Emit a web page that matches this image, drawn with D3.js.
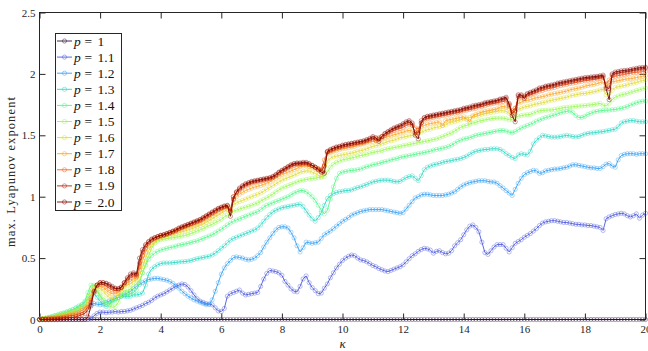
<!DOCTYPE html>
<html><head><meta charset="utf-8">
<script src="https://cdn.jsdelivr.net/npm/d3@7"></script>
<style>body{margin:0;background:#fff}svg{display:block}</style>
</head><body>
<svg id="c" width="648" height="351"></svg>
<script>
const pLabels = ["1","1.1","1.2","1.3","1.4","1.5","1.6","1.7","1.8","1.9","2.0"];
const kappaStep = 0.1;
const xTicks = [0,2,4,6,8,10,12,14,16,18,20];
const yTicks = [0,0.5,1,1.5,2,2.5];
const yTickLabels = ["0","0.5","1","1.5","2","2.5"];

const s10 = [
0,0,0,0,0,0,0,0,0,0, 0,0,0,0,0,0,0,0,0,0, 0,0,0,0,0,0,0,0,0,0, 0,0,0,0,0,0,0,0,0,0,
0,0,0,0,0,0,0,0,0,0, 0,0,0,0,0,0,0,0,0,0, 0,0,0,0,0,0,0,0,0,0, 0,0,0,0,0,0,0,0,0,0,
0,0,0,0,0,0,0,0,0,0, 0,0,0,0,0,0,0,0,0,0, 0,0,0,0,0,0,0,0,0,0, 0,0,0,0,0,0,0,0,0,0,
0,0,0,0,0,0,0,0,0,0, 0,0,0,0,0,0,0,0,0,0, 0,0,0,0,0,0,0,0,0,0, 0,0,0,0,0,0,0,0,0,0,
0,0,0,0,0,0,0,0,0,0, 0,0,0,0,0,0,0,0,0,0, 0,0,0,0,0,0,0,0,0,0, 0,0,0,0,0,0,0,0,0,0,
0];
const s11 = [
0,0,0,0,0,0,0,0,0,0,
0,0,0,0,0,0,0,0.01,0.03,0.05,
0.06,0.06,0.055,0.06,0.06,0.065,0.06,0.065,0.065,0.07,
0.075,0.085,0.095,0.105,0.115,0.13,0.14,0.155,0.175,0.19,
0.2,0.21,0.225,0.24,0.255,0.27,0.28,0.29,0.285,0.265,
0.235,0.2,0.17,0.15,0.14,0.13,0.125,0.12,0.095,0.07,
0.065,0.09,0.19,0.21,0.22,0.23,0.24,0.215,0.2,0.205,
0.21,0.215,0.22,0.27,0.33,0.375,0.4,0.395,0.39,0.38,
0.36,0.31,0.28,0.25,0.23,0.225,0.27,0.33,0.355,0.3,
0.26,0.235,0.21,0.215,0.255,0.29,0.34,0.38,0.42,0.45,
0.48,0.5,0.515,0.525,0.52,0.5,0.485,0.48,0.47,0.455,
0.44,0.43,0.415,0.405,0.395,0.39,0.4,0.41,0.42,0.43,
0.445,0.47,0.495,0.52,0.535,0.555,0.57,0.58,0.575,0.565,
0.54,0.555,0.56,0.545,0.535,0.54,0.56,0.6,0.625,0.65,
0.69,0.73,0.76,0.77,0.75,0.715,0.63,0.545,0.53,0.56,
0.59,0.61,0.61,0.61,0.58,0.55,0.585,0.62,0.635,0.65,
0.67,0.685,0.7,0.72,0.74,0.765,0.785,0.795,0.8,0.805,
0.805,0.8,0.795,0.79,0.79,0.785,0.78,0.775,0.775,0.77,
0.77,0.765,0.765,0.76,0.755,0.75,0.725,0.82,0.835,0.845,
0.855,0.86,0.865,0.86,0.845,0.835,0.845,0.86,0.825,0.85,
0.865];
const s12 = [
0,0.003,0.006,0.01,0.015,0.02,0.025,0.03,0.035,0.04,
0.05,0.055,0.065,0.075,0.09,0.1,0.11,0.12,0.13,0.125,
0.12,0.13,0.14,0.15,0.16,0.17,0.18,0.19,0.2,0.215,
0.23,0.25,0.27,0.285,0.3,0.315,0.325,0.33,0.335,0.335,
0.33,0.325,0.32,0.31,0.295,0.275,0.255,0.23,0.21,0.19,
0.175,0.16,0.15,0.14,0.13,0.12,0.125,0.16,0.23,0.3,
0.37,0.42,0.455,0.48,0.505,0.51,0.505,0.5,0.49,0.485,
0.49,0.5,0.52,0.545,0.59,0.63,0.665,0.7,0.73,0.75,
0.755,0.755,0.745,0.71,0.665,0.6,0.55,0.585,0.63,0.625,
0.62,0.625,0.63,0.66,0.69,0.705,0.72,0.74,0.76,0.78,
0.8,0.815,0.83,0.85,0.86,0.87,0.88,0.885,0.89,0.895,
0.895,0.895,0.895,0.895,0.89,0.885,0.88,0.875,0.87,0.865,
0.87,0.9,0.93,0.96,0.99,1.0,1.015,1.02,1.02,1.015,
1.01,1.01,1.01,1.01,1.015,1.02,1.03,1.04,1.06,1.08,
1.095,1.105,1.115,1.12,1.125,1.13,1.13,1.13,1.125,1.12,
1.12,1.11,1.09,1.07,1.05,1.03,1.01,1.06,1.11,1.15,
1.18,1.195,1.205,1.215,1.21,1.19,1.195,1.21,1.215,1.22,
1.225,1.225,1.23,1.235,1.24,1.25,1.26,1.26,1.255,1.25,
1.245,1.24,1.235,1.235,1.23,1.23,1.245,1.265,1.27,1.25,
1.24,1.3,1.335,1.345,1.35,1.35,1.35,1.345,1.35,1.35,
1.35];
const s13 = [
0,0.005,0.01,0.015,0.02,0.03,0.035,0.045,0.05,0.06,
0.07,0.08,0.095,0.11,0.12,0.14,0.17,0.2,0.21,0.18,
0.15,0.12,0.105,0.12,0.15,0.17,0.18,0.19,0.19,0.185,
0.19,0.2,0.2,0.205,0.215,0.28,0.37,0.41,0.43,0.445,
0.455,0.46,0.46,0.46,0.463,0.465,0.468,0.47,0.472,0.475,
0.48,0.488,0.495,0.5,0.505,0.51,0.515,0.525,0.54,0.56,
0.58,0.6,0.625,0.645,0.66,0.67,0.68,0.69,0.7,0.71,
0.72,0.73,0.745,0.77,0.8,0.83,0.855,0.875,0.89,0.9,
0.91,0.915,0.92,0.925,0.93,0.935,0.94,0.92,0.885,0.85,
0.82,0.8,0.83,0.87,0.93,0.985,1.01,1.025,1.035,1.04,
1.045,1.05,1.05,1.055,1.065,1.075,1.08,1.09,1.1,1.11,
1.12,1.125,1.13,1.135,1.135,1.135,1.13,1.125,1.12,1.125,
1.14,1.155,1.165,1.17,1.15,1.13,1.17,1.22,1.24,1.25,
1.26,1.265,1.27,1.28,1.285,1.29,1.295,1.3,1.305,1.31,
1.32,1.33,1.345,1.36,1.37,1.375,1.38,1.385,1.385,1.39,
1.39,1.39,1.385,1.37,1.35,1.335,1.32,1.31,1.34,1.35,
1.345,1.34,1.37,1.43,1.46,1.48,1.5,1.495,1.49,1.485,
1.485,1.486,1.49,1.495,1.5,1.495,1.49,1.486,1.49,1.5,
1.51,1.515,1.52,1.52,1.525,1.527,1.53,1.535,1.54,1.545,
1.55,1.57,1.6,1.61,1.615,1.62,1.62,1.615,1.61,1.61,
1.61];
const s14 = [
0,0.006,0.012,0.018,0.024,0.03,0.038,0.046,0.054,0.062,
0.07,0.08,0.09,0.1,0.12,0.15,0.22,0.28,0.28,0.23,
0.19,0.16,0.14,0.13,0.14,0.16,0.18,0.2,0.21,0.2,
0.21,0.22,0.24,0.3,0.38,0.44,0.49,0.52,0.54,0.555,
0.565,0.572,0.58,0.585,0.59,0.597,0.605,0.61,0.615,0.62,
0.627,0.634,0.64,0.65,0.66,0.67,0.68,0.69,0.705,0.72,
0.735,0.75,0.77,0.785,0.8,0.81,0.82,0.83,0.84,0.85,
0.86,0.868,0.878,0.895,0.915,0.93,0.94,0.95,0.96,0.97,
0.98,0.99,1.0,1.015,1.03,1.04,1.05,1.05,1.04,1.02,
1.0,0.97,0.93,0.89,0.86,0.89,0.98,1.08,1.15,1.19,
1.2,1.205,1.21,1.215,1.215,1.22,1.225,1.235,1.245,1.25,
1.26,1.265,1.27,1.28,1.285,1.29,1.3,1.305,1.31,1.32,
1.325,1.33,1.335,1.34,1.345,1.35,1.355,1.36,1.365,1.37,
1.38,1.385,1.39,1.395,1.4,1.41,1.42,1.435,1.45,1.46,
1.47,1.475,1.48,1.49,1.5,1.505,1.51,1.515,1.52,1.525,
1.53,1.535,1.54,1.54,1.535,1.525,1.52,1.53,1.545,1.56,
1.57,1.58,1.59,1.6,1.615,1.625,1.635,1.645,1.65,1.66,
1.665,1.675,1.685,1.69,1.695,1.7,1.685,1.66,1.645,1.645,
1.655,1.67,1.68,1.69,1.695,1.7,1.702,1.705,1.705,1.708,
1.71,1.715,1.72,1.725,1.735,1.745,1.755,1.765,1.772,1.778,
1.78];
const s15 = [
0,0.005,0.01,0.015,0.02,0.025,0.032,0.04,0.047,0.054,
0.06,0.068,0.076,0.09,0.11,0.13,0.19,0.25,0.27,0.24,
0.2,0.16,0.13,0.11,0.1,0.105,0.14,0.2,0.24,0.23,
0.25,0.27,0.29,0.32,0.38,0.45,0.52,0.58,0.62,0.64,
0.65,0.655,0.66,0.663,0.665,0.67,0.675,0.68,0.685,0.692,
0.7,0.71,0.72,0.73,0.74,0.755,0.765,0.775,0.79,0.8,
0.815,0.835,0.85,0.865,0.88,0.89,0.9,0.907,0.915,0.922,
0.93,0.94,0.95,0.965,0.978,0.99,1.005,1.02,1.04,1.055,
1.07,1.08,1.09,1.1,1.11,1.12,1.13,1.135,1.14,1.145,
1.15,1.15,1.155,1.16,1.165,1.2,1.24,1.265,1.28,1.29,
1.3,1.305,1.31,1.315,1.32,1.33,1.335,1.34,1.345,1.355,
1.36,1.365,1.37,1.375,1.385,1.39,1.395,1.4,1.405,1.41,
1.415,1.42,1.425,1.43,1.435,1.44,1.445,1.45,1.455,1.46,
1.465,1.47,1.48,1.49,1.5,1.51,1.52,1.535,1.55,1.565,
1.575,1.58,1.59,1.6,1.605,1.615,1.62,1.625,1.63,1.635,
1.638,1.64,1.64,1.64,1.635,1.625,1.63,1.645,1.655,1.66,
1.665,1.668,1.67,1.68,1.69,1.7,1.702,1.704,1.706,1.706,
1.71,1.715,1.72,1.725,1.728,1.73,1.732,1.735,1.738,1.74,
1.742,1.745,1.748,1.752,1.755,1.76,1.745,1.74,1.76,1.79,
1.81,1.82,1.83,1.835,1.84,1.85,1.855,1.865,1.87,1.878,
1.885];
const s16 = [
0,0.004,0.008,0.012,0.016,0.02,0.026,0.032,0.038,0.044,
0.05,0.056,0.064,0.08,0.095,0.11,0.15,0.21,0.26,0.27,
0.25,0.23,0.2,0.18,0.17,0.18,0.2,0.24,0.27,0.28,
0.29,0.31,0.32,0.36,0.43,0.5,0.56,0.6,0.63,0.65,
0.66,0.667,0.675,0.682,0.69,0.697,0.705,0.713,0.72,0.728,
0.737,0.745,0.755,0.765,0.775,0.79,0.805,0.82,0.835,0.85,
0.865,0.88,0.895,0.91,0.935,0.95,0.96,0.97,0.98,0.99,
1.0,1.01,1.02,1.03,1.045,1.06,1.075,1.09,1.105,1.12,
1.135,1.145,1.155,1.165,1.175,1.185,1.2,1.205,1.21,1.21,
1.2,1.19,1.175,1.16,1.2,1.29,1.315,1.325,1.33,1.335,
1.34,1.345,1.35,1.355,1.36,1.37,1.375,1.38,1.39,1.4,
1.41,1.415,1.42,1.43,1.44,1.45,1.455,1.46,1.47,1.48,
1.485,1.49,1.495,1.5,1.505,1.515,1.525,1.535,1.545,1.55,
1.56,1.565,1.57,1.58,1.585,1.6,1.605,1.61,1.62,1.625,
1.635,1.64,1.645,1.65,1.655,1.66,1.67,1.675,1.68,1.685,
1.69,1.695,1.7,1.7,1.695,1.68,1.64,1.67,1.71,1.72,
1.73,1.735,1.74,1.75,1.755,1.76,1.765,1.77,1.78,1.785,
1.79,1.795,1.8,1.805,1.81,1.82,1.825,1.83,1.835,1.84,
1.84,1.845,1.85,1.855,1.86,1.87,1.875,1.83,1.845,1.865,
1.89,1.895,1.9,1.905,1.91,1.92,1.925,1.93,1.94,1.945,
1.95];
const s17 = [
0,0.003,0.006,0.009,0.012,0.015,0.02,0.025,0.03,0.035,
0.04,0.045,0.05,0.06,0.075,0.09,0.12,0.18,0.24,0.27,
0.27,0.26,0.24,0.22,0.21,0.21,0.22,0.25,0.28,0.3,
0.31,0.33,0.34,0.4,0.48,0.55,0.6,0.63,0.65,0.665,
0.675,0.683,0.692,0.7,0.71,0.718,0.727,0.736,0.745,0.754,
0.762,0.77,0.778,0.79,0.8,0.815,0.83,0.845,0.86,0.875,
0.89,0.9,0.91,0.88,0.973,1.0,1.02,1.035,1.05,1.06,
1.07,1.078,1.085,1.092,1.1,1.11,1.12,1.135,1.15,1.165,
1.18,1.19,1.2,1.21,1.22,1.23,1.245,1.25,1.25,1.245,
1.24,1.23,1.215,1.2,1.25,1.35,1.36,1.37,1.375,1.383,
1.39,1.395,1.4,1.405,1.41,1.42,1.425,1.43,1.44,1.445,
1.45,1.455,1.46,1.47,1.48,1.49,1.495,1.505,1.51,1.52,
1.525,1.535,1.54,1.535,1.52,1.54,1.57,1.58,1.59,1.595,
1.6,1.605,1.61,1.58,1.62,1.625,1.63,1.635,1.64,1.645,
1.65,1.63,1.61,1.66,1.67,1.68,1.69,1.695,1.7,1.705,
1.71,1.715,1.73,1.735,1.73,1.72,1.68,1.72,1.76,1.77,
1.78,1.785,1.79,1.8,1.805,1.81,1.815,1.82,1.83,1.835,
1.84,1.845,1.85,1.855,1.86,1.87,1.875,1.88,1.885,1.89,
1.9,1.905,1.91,1.915,1.92,1.93,1.935,1.91,1.92,1.935,
1.94,1.945,1.95,1.955,1.96,1.96,1.965,1.97,1.975,1.98,
1.985];
const s18 = [
0,0.002,0.004,0.006,0.008,0.01,0.013,0.016,0.02,0.025,
0.03,0.034,0.038,0.045,0.055,0.07,0.1,0.16,0.23,0.28,
0.29,0.285,0.27,0.255,0.24,0.235,0.24,0.26,0.29,0.32,
0.34,0.355,0.35,0.43,0.52,0.58,0.62,0.645,0.66,0.67,
0.68,0.686,0.694,0.702,0.712,0.722,0.735,0.746,0.756,0.766,
0.776,0.786,0.795,0.805,0.82,0.835,0.85,0.865,0.88,0.895,
0.905,0.915,0.92,0.89,1.0,1.03,1.055,1.075,1.09,1.1,
1.11,1.117,1.122,1.127,1.132,1.138,1.145,1.155,1.17,1.19,
1.205,1.22,1.235,1.245,1.255,1.26,1.26,1.265,1.265,1.26,
1.25,1.24,1.23,1.22,1.3,1.36,1.37,1.38,1.39,1.398,
1.405,1.41,1.415,1.42,1.425,1.43,1.435,1.44,1.45,1.46,
1.47,1.475,1.48,1.48,1.5,1.515,1.53,1.54,1.55,1.555,
1.565,1.58,1.59,1.59,1.56,1.55,1.6,1.625,1.635,1.64,
1.645,1.65,1.655,1.66,1.665,1.67,1.675,1.68,1.685,1.69,
1.7,1.705,1.71,1.715,1.72,1.73,1.735,1.74,1.75,1.755,
1.76,1.765,1.77,1.775,1.78,1.74,1.7,1.72,1.8,1.81,
1.81,1.82,1.83,1.84,1.85,1.86,1.865,1.875,1.88,1.885,
1.89,1.9,1.905,1.91,1.915,1.92,1.925,1.93,1.935,1.94,
1.945,1.948,1.952,1.955,1.96,1.965,1.97,1.92,1.95,1.97,
1.98,1.985,1.99,1.995,2.0,2.005,2.01,2.012,2.015,2.018,
2.02];
const s19 = [
0,0.001,0.002,0.003,0.004,0.005,0.007,0.009,0.011,0.013,
0.015,0.018,0.022,0.03,0.04,0.05,0.08,0.14,0.22,0.28,
0.3,0.3,0.29,0.275,0.26,0.25,0.25,0.265,0.3,0.33,
0.355,0.37,0.36,0.46,0.55,0.6,0.63,0.65,0.665,0.675,
0.685,0.69,0.698,0.707,0.717,0.727,0.74,0.751,0.761,0.771,
0.781,0.791,0.8,0.81,0.825,0.84,0.855,0.87,0.885,0.9,
0.91,0.92,0.925,0.88,1.0,1.035,1.062,1.082,1.098,1.108,
1.118,1.124,1.13,1.135,1.14,1.145,1.15,1.16,1.175,1.195,
1.21,1.225,1.24,1.255,1.265,1.27,1.27,1.272,1.272,1.265,
1.255,1.24,1.225,1.21,1.25,1.365,1.378,1.39,1.4,1.405,
1.413,1.42,1.425,1.43,1.435,1.44,1.445,1.45,1.458,1.468,
1.48,1.46,1.47,1.49,1.51,1.525,1.54,1.553,1.563,1.573,
1.585,1.6,1.61,1.58,1.52,1.52,1.62,1.64,1.648,1.653,
1.658,1.663,1.668,1.673,1.678,1.683,1.688,1.693,1.698,1.703,
1.712,1.717,1.722,1.73,1.737,1.742,1.748,1.758,1.762,1.768,
1.772,1.778,1.788,1.792,1.8,1.76,1.68,1.7,1.82,1.822,
1.82,1.832,1.842,1.852,1.862,1.876,1.882,1.892,1.897,1.902,
1.907,1.916,1.921,1.926,1.931,1.936,1.941,1.946,1.951,1.956,
1.96,1.963,1.966,1.969,1.972,1.976,1.98,1.89,1.88,1.99,
2.003,2.008,2.013,2.017,2.02,2.025,2.03,2.035,2.04,2.043,
2.045];
const s20 = [
0,0,0,0,0,0,0,0,0,0,
0,0,0,0,0,0,0.02,0.11,0.23,0.28,
0.3,0.3,0.295,0.285,0.27,0.255,0.25,0.26,0.3,0.34,
0.37,0.38,0.37,0.5,0.57,0.61,0.635,0.655,0.665,0.675,
0.685,0.69,0.7,0.71,0.72,0.73,0.745,0.755,0.765,0.775,
0.785,0.795,0.805,0.815,0.83,0.845,0.86,0.875,0.89,0.905,
0.915,0.925,0.93,0.84,0.98,1.04,1.07,1.09,1.105,1.115,
1.125,1.13,1.135,1.14,1.145,1.15,1.155,1.165,1.18,1.2,
1.215,1.23,1.245,1.26,1.27,1.275,1.275,1.28,1.28,1.27,
1.255,1.24,1.22,1.2,1.19,1.37,1.385,1.395,1.405,1.41,
1.42,1.425,1.43,1.435,1.44,1.445,1.45,1.455,1.465,1.475,
1.49,1.48,1.45,1.49,1.515,1.53,1.545,1.56,1.57,1.58,
1.595,1.61,1.62,1.6,1.5,1.47,1.6,1.645,1.655,1.66,
1.665,1.67,1.675,1.68,1.685,1.69,1.695,1.7,1.705,1.71,
1.72,1.725,1.73,1.74,1.745,1.75,1.755,1.765,1.77,1.775,
1.78,1.785,1.795,1.8,1.81,1.75,1.66,1.61,1.83,1.83,
1.8,1.84,1.85,1.86,1.87,1.885,1.89,1.9,1.905,1.91,
1.915,1.925,1.93,1.935,1.94,1.945,1.95,1.955,1.96,1.965,
1.97,1.972,1.975,1.978,1.98,1.985,1.99,1.88,1.79,2.0,
2.015,2.02,2.025,2.028,2.03,2.035,2.04,2.045,2.05,2.052,
2.055];

const seriesValues = [s10,s11,s12,s13,s14,s15,s16,s17,s18,s19,s20];
const colors = pLabels.map((p,i)=> i===0 ? "#30123b" : (i===10 ? "#7a0403" : d3.interpolateTurbo(i/10)));

const svg = d3.select("#c");
const L=39.5, R=645.5, T=12.5, B=319.5;
const x = d3.scaleLinear().domain([0,20]).range([L,R]);
const y = d3.scaleLinear().domain([0,2.5]).range([B,T]);
const axisColor = "#262626";
const serif = "'Liberation Serif','DejaVu Serif',serif";

svg.append("rect").attr("x",L).attr("y",T).attr("width",R-L).attr("height",B-T)
  .attr("fill","none").attr("stroke",axisColor).attr("stroke-width",1);

const gx = svg.append("g").attr("transform",`translate(0,${B})`)
  .call(d3.axisBottom(x).tickValues(xTicks).tickSizeInner(-6).tickSizeOuter(0).tickPadding(6).tickFormat(d3.format("d")));
const gxt = svg.append("g").attr("transform",`translate(0,${T})`)
  .call(d3.axisTop(x).tickValues(xTicks).tickSizeInner(-6).tickSizeOuter(0).tickFormat(""));
const gy = svg.append("g").attr("transform",`translate(${L},0)`)
  .call(d3.axisLeft(y).tickValues(yTicks).tickSizeInner(-6).tickSizeOuter(0).tickPadding(4).tickFormat((d,i)=>yTickLabels[i]));
const gyr = svg.append("g").attr("transform",`translate(${R},0)`)
  .call(d3.axisRight(y).tickValues(yTicks).tickSizeInner(-6).tickSizeOuter(0).tickFormat(""));
[gx,gxt,gy,gyr].forEach(g=>{
  g.select(".domain").remove();
  g.selectAll(".tick line").attr("stroke",axisColor).attr("stroke-width",1);
  g.selectAll("text").attr("font-family",serif).attr("font-size",11).attr("fill","#262626");
});

svg.append("text").attr("x",x(10)).attr("y",348).attr("text-anchor","middle")
  .attr("font-family",serif).attr("font-style","italic").attr("font-size",13).attr("fill","#262626").text("κ");
svg.append("text").attr("transform",`translate(15,172) rotate(-90)`).attr("text-anchor","middle")
  .attr("font-family",serif).attr("font-size",12.5).attr("fill","#262626")
  .attr("textLength",150).attr("lengthAdjust","spacing").text("max. Lyapunov exponent");

const line = d3.line().x((d,i)=>x(i*kappaStep)).y(d=>y(d));
seriesValues.forEach((vals,si)=>{
  if(!vals.length) return;
  const g = svg.append("g");
  g.append("path").datum(vals).attr("d",line).attr("fill","none")
    .attr("stroke",colors[si]).attr("stroke-width",0.9);
  g.selectAll("circle").data(vals).join("circle")
    .attr("cx",(d,i)=>x(i*kappaStep)).attr("cy",d=>y(d)).attr("r",2.1)
    .attr("fill","none").attr("stroke",colors[si]).attr("stroke-opacity",0.5).attr("stroke-width",0.8);
});

const lg = svg.append("g");
lg.append("rect").attr("x",55.5).attr("y",33.5).attr("width",66).attr("height",177)
  .attr("fill","#fff").attr("stroke",axisColor).attr("stroke-width",1);
pLabels.forEach((p,i)=>{
  const cy = 41 + i*16.1;
  lg.append("line").attr("x1",57).attr("x2",72).attr("y1",cy).attr("y2",cy)
    .attr("stroke",colors[i]).attr("stroke-width",0.9);
  lg.append("circle").attr("cx",64.5).attr("cy",cy).attr("r",2.1).attr("fill","none")
    .attr("stroke",colors[i]).attr("stroke-opacity",0.6).attr("stroke-width",0.8);
  const t = lg.append("text").attr("y",cy+4.5).attr("font-family",serif).attr("font-size",13.5).attr("fill","#111");
  t.append("tspan").attr("x",74).attr("font-style","italic").text("p");
  t.append("tspan").attr("x",84.5).text("=");
  t.append("tspan").attr("x",97.5).text(p);
});
</script>
</body></html>
